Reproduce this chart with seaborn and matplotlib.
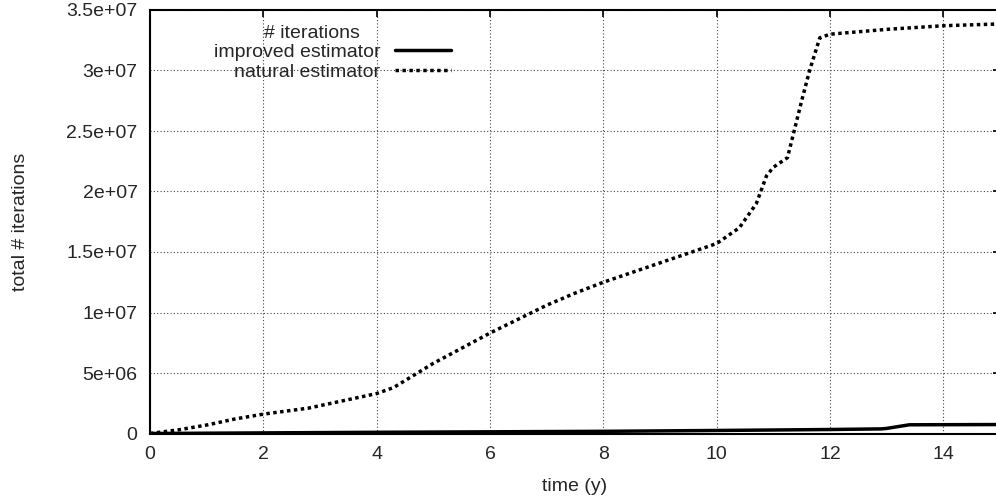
import numpy as np
import pandas as pd
import matplotlib
matplotlib.use("Agg")
import matplotlib.pyplot as plt
import seaborn as sns

# time in years and cumulative number of iterations per estimator
natural_t = [0.0, 0.5, 1.0, 1.5, 2.0, 2.8, 3.5, 4.0, 4.3, 5.0, 6.0, 7.0, 7.5, 8.0,
             9.0, 10.0, 10.4, 10.7, 10.88, 11.0, 11.25, 11.5, 11.64, 11.82, 12.0,
             12.5, 13.0, 14.0, 15.0]
natural_iter = [0.0, 0.3e6, 0.7e6, 1.2e6, 1.6e6, 2.1e6, 2.8e6, 3.3e6, 3.8e6, 5.8e6,
                8.3e6, 10.6e6, 11.6e6, 12.5e6, 14.1e6, 15.7e6, 17.0e6, 19.0e6,
                21.3e6, 22.0e6, 22.8e6, 27.5e6, 30.0e6, 32.7e6, 33.0e6, 33.2e6,
                33.4e6, 33.7e6, 33.85e6]

improved_t = [0.0, 2.0, 4.0, 6.0, 8.0, 10.0, 12.0, 12.9, 13.0, 13.4, 15.0]
improved_iter = [0.0, 0.05e6, 0.1e6, 0.14e6, 0.18e6, 0.25e6, 0.33e6, 0.38e6,
                 0.42e6, 0.72e6, 0.74e6]

xticks = [0, 2, 4, 6, 8, 10, 12, 14]
yticks = [0, 5e6, 1e7, 1.5e7, 2e7, 2.5e7, 3e7, 3.5e7]
ytick_labels = ["0", "5e+06", "1e+07", "1.5e+07", "2e+07", "2.5e+07", "3e+07", "3.5e+07"]

FS = 14

sns.set_style("white")
plt.rcParams["font.family"] = ["Liberation Sans", "DejaVu Sans"]
plt.rcParams["font.size"] = FS

df_imp = pd.DataFrame({"t": improved_t, "n": improved_iter})
df_nat = pd.DataFrame({"t": natural_t, "n": natural_iter})

fig = plt.figure(figsize=(9.96, 4.99), dpi=100)
ax = fig.add_axes([150 / 996, (499 - 433.5) / 499, 850 / 996, 423.5 / 499])

sns.lineplot(data=df_imp, x="t", y="n", ax=ax, color="black", lw=2.5,
             label="improved estimator")
sns.lineplot(data=df_nat, x="t", y="n", ax=ax, color="black", lw=2.5,
             linestyle=(0, (1, 1)), label="natural estimator")

ax.set_xlim(0, 15)
ax.set_ylim(0, 3.5e7)
ax.set_xticks(xticks)
ax.set_xticklabels([str(v) for v in xticks])
ax.set_yticks(yticks)
ax.set_yticklabels(ytick_labels)
ax.tick_params(direction="in", length=5, width=1.2, color="black",
               top=True, right=True, labelsize=FS, pad=9)
ax.grid(True, linestyle=(0, (1, 2)), color="#444444", linewidth=0.8)

for side in ["left", "bottom", "top"]:
    ax.spines[side].set_visible(True)
    ax.spines[side].set_color("black")
    ax.spines[side].set_linewidth(1.5)
ax.spines["right"].set_visible(False)

ax.set_xlabel("time (y)", fontsize=FS, labelpad=11)
ax.set_ylabel("total # iterations", fontsize=FS, labelpad=27)

# key title, placed like gnuplot does it
ax.text((312 - 150) / 850, (433.5 - 33) / 423.5, "# iterations", transform=ax.transAxes,
        ha="center", va="center", fontsize=FS)

leg = ax.legend(loc="upper left", bbox_to_anchor=(0.075, (433.5 - 43) / 423.5),
                frameon=False, markerfirst=False, handlelength=2.9,
                handletextpad=0.75, labelspacing=0.12, borderpad=0,
                borderaxespad=0, fontsize=FS)
for col in leg._legend_handle_box.get_children():
    col.align = "right"

fig.savefig("out.png", dpi=100)
